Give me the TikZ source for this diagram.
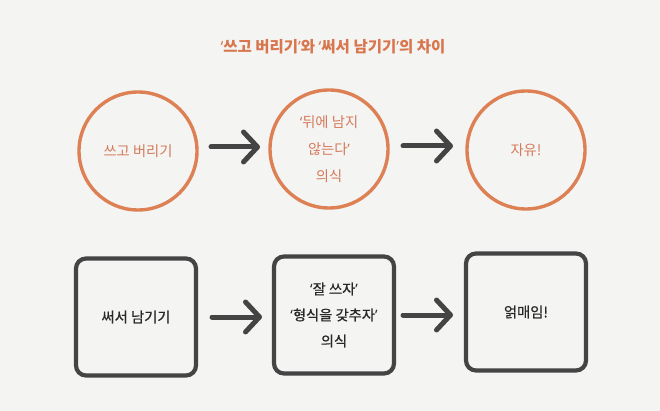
\documentclass[tikz,border=0pt]{standalone}
\usepackage{fontspec}
\setmainfont{Noto Sans CJK KR}
\newfontfamily\kr{Noto Sans CJK KR}
\newfontfamily\krmed[FakeBold=0.6]{Noto Sans CJK KR}
\newfontfamily\qfont{Noto Sans}
\newcommand\myoq{{\qfont ‘}}
\newcommand\mycq{{\qfont ’}}
\usetikzlibrary{arrows.meta}
\definecolor{orangeline}{RGB}{221,128,84}
\definecolor{orangetext}{RGB}{212,122,90}
\definecolor{titletext}{RGB}{216,118,78}
\definecolor{darkline}{RGB}{68,68,68}
\definecolor{darktext}{RGB}{40,40,40}
\definecolor{paper}{RGB}{244,244,243}
\tikzset{
  circ/.style={circle, draw=orangeline, line width=3.4pt, minimum size=118pt, inner sep=0pt,
     text=orangetext, font=\kr\fontsize{14.3}{27}\selectfont, align=center},
  sq/.style={rectangle, rounded corners=10pt, draw=darkline, line width=4.2pt,
     minimum width=120pt, minimum height=117pt, inner sep=0pt,
     text=darktext, font=\krmed\fontsize{14.3}{26}\selectfont, align=center},
  flow/.style={draw=darkline, line width=5pt, line cap=round, line join=round,
     -{Straight Barb[length=14pt, width=30pt, line width=5pt, round]}}
}
\begin{document}
\begin{tikzpicture}[x=1pt,y=-1pt]
\fill[paper] (0,0) rectangle (660,411);
\useasboundingbox (0,0) rectangle (660,411);
\node[text=titletext, font=\kr\bfseries\fontsize{15.5}{18}\selectfont] (title) at (333,47) {\myoq 쓰고 버리기\mycq 와 \myoq 써서 남기기\mycq 의 차이};
\node[circ] (c1) at (138,151) {쓰고 버리기};
\node[circ] (c2) at (329,149) {\myoq 뒤에 남지\\않는다\mycq\\의식};
\node[circ] (c3) at (526,150) {자유!};
\node[sq] (s1) at (136,317) {써서 남기기};
\node[sq] (s2) at (334,315) {\myoq 잘 쓰자\mycq\\\myoq 형식을 갖추자\mycq\\의식};
\node[sq] (s3) at (526,312) {얽매임!};
\coordinate (a1s) at (211,147); \coordinate (a1e) at (260,147);
\coordinate (a2s) at (403,146); \coordinate (a2e) at (453,146);
\coordinate (a3s) at (212,317); \coordinate (a3e) at (262,317);
\coordinate (a4s) at (403,315); \coordinate (a4e) at (453,315);
\draw[flow] (a1s) -- (a1e);
\draw[flow] (a2s) -- (a2e);
\draw[flow] (a3s) -- (a3e);
\draw[flow] (a4s) -- (a4e);
\end{tikzpicture}
\end{document}
